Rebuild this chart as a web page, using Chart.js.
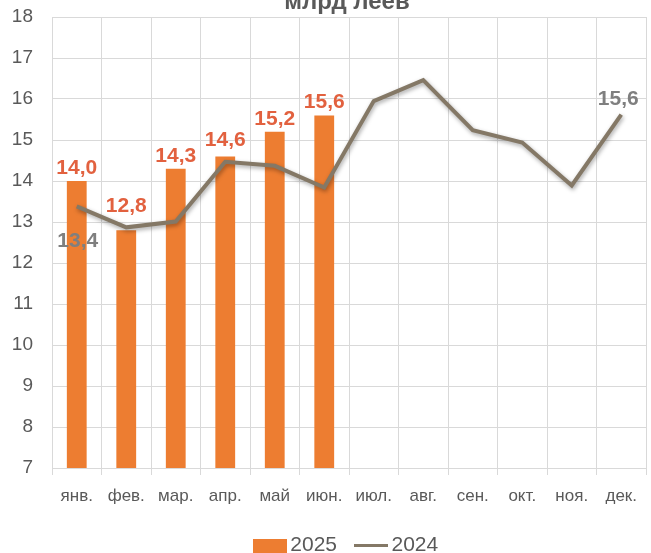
<!DOCTYPE html>
<html>
<head>
<meta charset="utf-8">
<script src="https://cdn.jsdelivr.net/npm/chart.js@4"></script>
<style>
  html, body { margin: 0; padding: 0; background: #fff; }
  #wrap { position: relative; width: 651px; height: 553px; }
</style>
</head>
<body>
<div id="wrap"><canvas id="chart"></canvas></div>
<script>
// данные
const months = ['янв.', 'фев.', 'мар.', 'апр.', 'май', 'июн.', 'июл.', 'авг.', 'сен.', 'окт.', 'ноя.', 'дек.'];
const values2025 = [14.0, 12.8, 14.3, 14.6, 15.2, 15.6];
const values2024 = [13.38, 12.87, 13.01, 14.47, 14.37, 13.84, 15.95, 16.46, 15.24, 14.94, 13.89, 15.62];
const yTicks = [7, 8, 9, 10, 11, 12, 13, 14, 15, 16, 17, 18];
const chartTitle = 'млрд леев';

const ORANGE = '#ED7D31';
const LINE = '#847866';
const LABEL_ORANGE = '#E2613F';
const LABEL_GREY = '#7F7F7F';
const TEXT = '#595959';
const GRID = '#D9D9D9';
const FONT = "'Liberation Sans', Arial, sans-serif";

const fmt = v => v.toFixed(1).replace('.', ',');

// маркеры легенды
function legendMarker(w, h, color) {
    const c = document.createElement('canvas');
    c.width = w; c.height = h;
    const g = c.getContext('2d');
    g.fillStyle = color;
    g.fillRect(0, 0, w, h);
    return c;
}
const barMarker = legendMarker(34, 14, ORANGE);
const lineMarker = legendMarker(34, 3, LINE);

const titlePlugin = {
    id: 'topTitle',
    afterDraw(chart) {
        const ctx = chart.ctx;
        ctx.save();
        ctx.font = 'bold 24px ' + FONT;
        ctx.fillStyle = TEXT;
        ctx.textAlign = 'center';
        ctx.textBaseline = 'alphabetic';
        ctx.fillText(chartTitle, 347, 9);
        ctx.restore();
    }
};

const lineShadow = {
    id: 'lineShadow',
    beforeDatasetDraw(chart, args) {
        if (args.index !== 1) return;
        const ctx = chart.ctx;
        ctx.save();
        ctx.shadowColor = 'rgba(0, 0, 0, 0.35)';
        ctx.shadowBlur = 4;
        ctx.shadowOffsetX = 1;
        ctx.shadowOffsetY = 2;
    },
    afterDatasetDraw(chart, args) {
        if (args.index !== 1) return;
        chart.ctx.restore();
    }
};

const valueLabels = {
    id: 'valueLabels',
    afterDatasetsDraw(chart) {
        const ctx = chart.ctx;
        ctx.save();
        ctx.font = 'bold 21px ' + FONT;
        ctx.textAlign = 'center';
        ctx.textBaseline = 'alphabetic';

        // столбцы 2025 (фев. и апр. подписи приподняты над линией)
        ctx.fillStyle = LABEL_ORANGE;
        chart.getDatasetMeta(0).data.forEach((bar, i) => {
            const lift = i === 1 ? 11 : (i === 3 ? 3 : 0);
            ctx.fillText(fmt(values2025[i]), bar.x, bar.y - 7 - lift);
        });

        // линия 2024: первая и последняя точки
        ctx.fillStyle = LABEL_GREY;
        const pts = chart.getDatasetMeta(1).data;
        const first = pts[0];
        const last = pts[pts.length - 1];
        ctx.fillText(fmt(values2024[0]), first.x + 1, first.y + 41);
        ctx.fillText(fmt(values2024[values2024.length - 1]), last.x - 3, last.y - 10);
        ctx.restore();
    }
};

new Chart(document.getElementById('chart'), {
    data: {
        labels: months,
        datasets: [
            {
                type: 'bar',
                label: '2025',
                data: values2025,
                backgroundColor: ORANGE,
                barPercentage: 0.4,
                categoryPercentage: 1.0,
                order: 2
            },
            {
                type: 'line',
                label: '2024',
                data: values2024,
                borderColor: LINE,
                backgroundColor: LINE,
                borderWidth: 4,
                pointRadius: 0,
                tension: 0,
                order: 1
            }
        ]
    },
    options: {
        responsive: true,
        maintainAspectRatio: false,
        animation: false,
        layout: { padding: { top: 17, right: 5, left: 0, bottom: -13 } },
        plugins: {
            legend: {
                position: 'bottom',
                fullSize: false,
                labels: {
                    usePointStyle: true,
                    pointStyleWidth: 20,
                    boxHeight: 16,
                    padding: 24,
                    color: TEXT,
                    font: { family: FONT, size: 21 },
                    generateLabels(chart) {
                        return chart.data.datasets.map((ds, i) => ({
                            text: ds.label,
                            pointStyle: i === 0 ? barMarker : lineMarker,
                            fillStyle: ds.backgroundColor,
                            strokeStyle: ds.backgroundColor,
                            lineWidth: 0,
                            fontColor: TEXT,
                            datasetIndex: i
                        }));
                    }
                }
            },
            tooltip: { enabled: false }
        },
        scales: {
            x: {
                offset: true,
                grid: { color: GRID, lineWidth: 1, offset: true, drawTicks: true, tickLength: 7, tickColor: GRID },
                border: { color: GRID },
                ticks: { color: TEXT, font: { family: FONT, size: 17 }, padding: 11, maxRotation: 0 },
                afterFit(scale) { scale.height = 43; }
            },
            y: {
                min: 7,
                max: 18,
                afterBuildTicks(scale) { scale.ticks = yTicks.map(v => ({ value: v })); },
                grid: { color: GRID, lineWidth: 1, drawTicks: false },
                border: { display: false },
                ticks: { color: TEXT, font: { family: FONT, size: 19 }, padding: 19 },
                afterFit(scale) {
                    scale.width = 52;
                    scale.paddingTop = 0;
                    scale.paddingBottom = 0;
                }
            }
        }
    },
    plugins: [titlePlugin, lineShadow, valueLabels]
});
</script>
</body>
</html>
